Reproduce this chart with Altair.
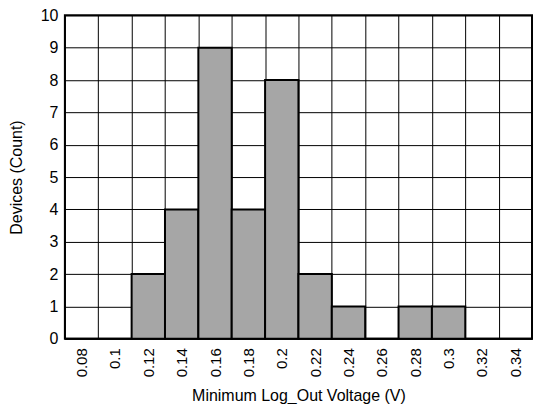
import altair as alt
import pandas as pd

bins = ["0.08", "0.1", "0.12", "0.14", "0.16", "0.18", "0.2", "0.22", "0.24", "0.26", "0.28", "0.3", "0.32", "0.34"]
counts = [0, 0, 2, 4, 9, 4, 8, 2, 1, 0, 1, 1, 0, 0]

df = pd.DataFrame({"bin": bins, "count": counts})

FONT = "Arial, Liberation Sans, sans-serif"

chart = alt.Chart(df).mark_bar(
    color="#a6a6a6", stroke="black", strokeWidth=2
).encode(
    x=alt.X("bin:O", sort=bins,
            scale=alt.Scale(paddingInner=0, paddingOuter=0),
            axis=alt.Axis(title="Minimum Log_Out Voltage (V)", labelAngle=-90,
                          tickBand="extent", grid=True, gridColor="black", gridWidth=1,
                          ticks=False, domain=False, labelPadding=9,
                          labelAlign="right", labelBaseline="middle",
                          labelFont=FONT, labelFontSize=15, labelColor="black",
                          titleFont=FONT, titleFontSize=16, titleFontWeight="normal",
                          titleColor="black", titlePadding=11)),
    y=alt.Y("count:Q", scale=alt.Scale(domain=[0, 10]),
            axis=alt.Axis(title="Devices (Count)", values=list(range(11)),
                          grid=True, gridColor="black", gridWidth=1,
                          ticks=False, domain=False, labelPadding=7,
                          labelFont=FONT, labelFontSize=16, labelColor="black",
                          titleFont=FONT, titleFontSize=16, titleFontWeight="normal",
                          titleColor="black", titlePadding=16)),
).properties(
    width=468, height=324,
    autosize=alt.AutoSizeParams(type="none"),
    padding={"left": 57, "top": 7, "right": 4, "bottom": 65},
).configure_view(
    stroke="black", strokeWidth=2
).configure_axis(gridOpacity=1)

chart.save("out.html", embed_options={"renderer": "svg", "actions": False})
